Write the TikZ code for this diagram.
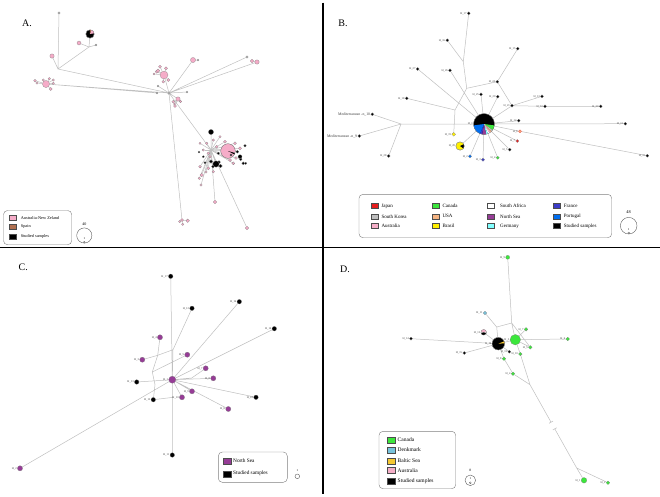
\documentclass[tikz,border=0pt]{standalone}
\usepackage{fontspec}
\setmainfont{Liberation Serif}
\usetikzlibrary{calc}
\pgfdeclarelayer{back}
\pgfdeclarelayer{bg}
\pgfsetlayers{back,bg,main}
\definecolor{pinkA}{RGB}{245,172,200}
\definecolor{brownA}{RGB}{176,112,80}
\definecolor{greyN}{RGB}{175,175,175}
\definecolor{japan}{RGB}{230,30,30}
\definecolor{canada}{RGB}{60,230,60}
\definecolor{france}{RGB}{60,60,200}
\definecolor{skorea}{RGB}{190,190,190}
\definecolor{usa}{RGB}{245,180,130}
\definecolor{nsea}{RGB}{150,60,150}
\definecolor{portugal}{RGB}{0,110,240}
\definecolor{aus}{RGB}{245,175,200}
\definecolor{brasil}{RGB}{255,240,0}
\definecolor{germany}{RGB}{130,255,255}
\definecolor{denmark}{RGB}{120,195,220}
\definecolor{baltic}{RGB}{245,200,50}
\definecolor{edgec}{RGB}{192,192,192}
\newcommand\hapslice[5]{\fill[#2] (#1.center) -- ++(#3:#5pt) arc[start angle=#3, end angle=#4, radius=#5pt] -- cycle;}
\newcommand\hapring[2]{\draw[draw=black!50, line width=0.2pt] (#1.center) circle[radius=#2pt];}
\tikzset{
  edge/.style={draw=edgec, line width=0.5pt},
  hap/.style={circle, draw=black!50, line width=0.2pt, inner sep=0pt, minimum size={#1*2pt}},
  hb/.style={hap=1.5, fill=black},
  lab/.style={font=\fontsize{2.8}{3}\selectfont, inner sep=0.4pt, text=black!75},
  panel/.style={font=\fontsize{10}{12}\selectfont, inner sep=0pt},
  legbox/.style={draw=black!50, rounded corners=4pt, line width=0.4pt},
  sw/.style={draw=black!70, line width=0.3pt, minimum width=7pt, minimum height=5pt, inner sep=0pt},
  legtxt/.style={anchor=west, inner sep=0pt},
  scalec/.style={draw=black!70, line width=0.35pt},
  divider/.style={draw=black, line width=1.6pt}
}
\begin{document}
\begin{tikzpicture}[x=1pt,y=-1pt]
\useasboundingbox (0,0) rectangle (660,496);
\begin{pgfonlayer}{back}
\fill[white] (0,0) rectangle (660,496);
\end{pgfonlayer}

% ---------------- dividers
\coordinate (dvT) at (322.7,2.5);
\coordinate (dvB) at (322.7,493.5);
\coordinate (dhL) at (0,247.3);
\coordinate (dhR) at (660,247.3);
\draw[divider] (dvT) -- (dvB);
\draw[divider] (dhL) -- (dhR);

% ================= PANEL A
\node[panel] (lA) at (27,23) {A.};
\node[hap=1.2, fill=greyN] (a1) at (59,13) {};
\coordinate (jA1) at (58,69);
\node[hap=4.2, fill=black] (a2) at (90,34) {};
\hapslice{a2}{pinkA}{10}{75}{4.2}
\hapslice{a2}{brownA}{75}{92}{4.2}
\hapring{a2}{4.2}
\coordinate (jA2) at (89,47);
\node[hap=2, fill=pinkA] (a3) at (79,43) {};
\node[hap=1.1, fill=greyN] (a4) at (96,45) {};
\node[hap=2.2, fill=pinkA] (a5) at (52,56) {};
\node[hap=3.6, fill=pinkA] (a6) at (46,84) {};
\foreach \n/\x/\y/\r in {1/35/80.7/1.4, 2/37/83/1.2, 3/43.3/80/1.2, 4/49.3/78.7/1.3, 5/53.3/80/1.2, 6/50.7/89/1.6, 7/53.3/83.3/1.2}
  \node[hap=\r, fill=pinkA] (a6s\n) at (\x,\y) {};
\node[hap=1.5, fill=greyN] (a7) at (169,93) {};
\node[hap=1.1, fill=greyN] (a8) at (157,93) {};
\node[hap=1, fill=greyN] (a9) at (158,86) {};
\node[hap=4, fill=pinkA] (a10) at (164,75) {};
\foreach \n/\x/\y/\r in {1/156.7/71.7/1.6, 2/160/66.7/1.5, 3/166/68.3/1.6, 4/168.3/80/1.6, 5/154/74/1.1, 6/163.3/81.7/1.4, 7/158/70.7/1.8}
  \node[hap=\r, fill=pinkA] (a10s\n) at (\x,\y) {};
\node[hap=2.6, fill=pinkA] (a11) at (193,60) {};
\node[hap=1, fill=greyN] (a12) at (198,60) {};
\node[hap=1.2, fill=greyN] (a13) at (247,57) {};
\node[hap=1.8, fill=pinkA] (a14) at (252,61) {};
\node[hap=2.2, fill=pinkA] (a15) at (257,62) {};
\node[hap=1, fill=greyN] (a16) at (187,92) {};
\node[hap=2.2, fill=pinkA] (a17) at (178,99) {};
\foreach \n/\x/\y/\r in {1/173.3/101.7/1.5, 2/175/106/1.5, 3/180.5/101.5/1.3, 4/174.5/104/1.1}
  \node[hap=\r, fill=pinkA] (a17s\n) at (\x,\y) {};
\node[hap=1.6, fill=pinkA] (a18) at (182,220) {};
\foreach \n/\x/\y/\r in {1/187.7/220.7/1.8, 2/182.7/224.3/1.2, 3/179.7/221.5/1.2}
  \node[hap=\r, fill=pinkA] (a18s\n) at (\x,\y) {};
\coordinate (jA3) at (211,150);
\foreach \n/\x/\y/\r in {1/200/143.3/1.1, 2/206.7/143.3/1.3, 3/213.3/140/1.3, 4/220/136.7/1.2, 5/225/141.7/1.5, 6/235/143.3/1.5, 7/240/148.3/1.6, 8/203.3/150/1.2, 9/208.3/153.3/1.4, 10/200/166.7/1.4, 11/208.3/168.3/1.6, 12/213.3/171.7/1.3, 13/201.7/175/1.8, 14/199.3/178.3/1.3, 15/201/185/1.2, 16/210/156.7/1.3, 17/230/160/1.6, 18/233.3/163.3/1.5, 19/216.7/146.7/1.4, 20/206/172/1.2, 21/236/158/1.4}
  \node[hap=\r, fill=pinkA] (a19s\n) at (\x,\y) {};
\node[hap=7.3, fill=pinkA] (a19) at (228,151) {};
\hapslice{a19}{black}{-28}{-16}{7.3}
\hapring{a19}{7.3}
\node[hap=2.6, fill=black] (a20) at (211,132) {};
\foreach \n/\x/\y/\r in {1/211/161.5/1.8, 2/220.5/166/1.8, 3/213/166.5/1.5, 4/219/162/1.5, 5/240/156.7/2, 6/243.3/163.3/1.5, 7/245/145.7/1.3, 8/237.3/151.7/1.5, 9/240.7/159.3/1.4, 10/245.7/163.3/1.2, 11/199/152/1, 12/203.3/156.7/1.1, 13/218.3/153.3/1.3, 14/205/162.7/1.2, 15/231/155/1.2}
  \node[hap=\r, fill=black] (a21s\n) at (\x,\y) {};
\node[hap=3.2, fill=black] (a21) at (216,164) {};
\node[hap=1.8, fill=pinkA] (a22) at (215,202) {};
\node[hap=1.8, fill=pinkA] (a23) at (247,228) {};
\begin{pgfonlayer}{bg}
\draw[edge] (a1)--(jA1) (jA1)--(jA2) (jA2)--(a2) (jA2)--(a3) (jA2)--(a4) (a5)--(jA1)
  (jA1)--(a7) (a6)--(a7) (a6)--(a8) (a7)--(a9) (a7)--(a10) (a7)--(a11) (a11)--(a12)
  (a7)--(a13) (a7)--(a15) (a14)--(a15) (a7)--(a16) (a7)--(a17) (a7)--(a18)
  (a7)--(jA3) (jA3)--(a22) (jA3)--(a23) (jA3)--(a19) (jA3)--(a20) (jA3)--(a21);
\foreach \n in {1,...,7} \draw[edge] (a6)--(a6s\n);
\foreach \n in {1,...,7} \draw[edge] (a10)--(a10s\n);
\foreach \n in {1,...,4} \draw[edge] (a17)--(a17s\n);
\foreach \n in {1,...,3} \draw[edge] (a18)--(a18s\n);
\foreach \n in {1,...,21} \draw[edge] (jA3)--(a19s\n);
\end{pgfonlayer}
% legend A
\draw[legbox] (3.5,210.5) rectangle (71.7,244.7);
\begin{scope}[every node/.append style={font=\fontsize{4.3}{5}\selectfont}]
\node[sw, fill=pinkA] (lgA1) at (12.5,217.8) {};
\node[legtxt] (lgA1t) at (20.7,217.8) {Australia-New Zeland};
\node[sw, fill=brownA] (lgA2) at (12.5,227) {};
\node[legtxt] (lgA2t) at (20.7,227) {Spain};
\node[sw, fill=black] (lgA3) at (12.5,236.5) {};
\node[legtxt] (lgA3t) at (20.7,236.5) {Studied samples};
\end{scope}
\draw[scalec] (84.3,235.5) circle[radius=7.6pt];
\node[font=\fontsize{4}{4}\selectfont, inner sep=0pt] (scA) at (84.3,224.5) {40};
\node[font=\fontsize{3}{3}\selectfont, inner sep=0pt] (scA1) at (84.3,238.8) {1};
\draw[scalec, line width=0.25pt] (84.3,242.2) circle[radius=0.9pt];

% ================= PANEL B
\node[panel] (lB) at (343,23) {B.};
\node[hap=10.5, fill=black, label={[lab]left:H\_1}] (b0) at (484,124) {};
\hapslice{b0}{canada}{-35}{-8}{10.5}
\hapslice{b0}{skorea}{-45}{-35}{10.5}
\hapslice{b0}{usa}{-52}{-45}{10.5}
\hapslice{b0}{aus}{-60}{-52}{10.5}
\hapslice{b0}{white}{-68}{-60}{10.5}
\hapslice{b0}{germany}{-78}{-68}{10.5}
\hapslice{b0}{nsea}{-100}{-78}{10.5}
\hapslice{b0}{france}{-112}{-100}{10.5}
\hapslice{b0}{portugal}{-172}{-112}{10.5}
\hapring{b0}{10.5}
\node[hb, label={[lab]left:H\_17}] (b1) at (468.7,13.3) {};
\node[hb, label={[lab]left:H\_16}] (b2) at (447.3,40.3) {};
\node[hb, label={[lab]left:H\_15}] (b3) at (517.7,48.7) {};
\node[hb, label={[lab]left:H\_27}] (b4) at (417.7,69) {};
\node[hb, label={[lab]left:H\_26}] (b5) at (450,70.3) {};
\node[hb, label={[lab]left:H\_24}] (b6) at (497.3,81.7) {};
\node[hb, label={[lab]left:H\_18}] (b7) at (406.7,98.3) {};
\node[hb, label={[lab]left:H\_25}] (b8) at (481,94.3) {};
\node[hb, label={[lab]left:H\_29}] (b9) at (497.7,96.7) {};
\node[hb, label={[lab]left:H\_13}] (b10) at (542,96.3) {};
\node[hb, label={[lab]left:H\_21}] (b11) at (512,105.7) {};
\node[hb, label={[lab]left:H\_12}] (b12) at (545,106.3) {};
\node[hb, label={[lab]left:H\_30}] (b13) at (600.7,106.3) {};
\node[hb, label={[lab,font=\fontsize{3.8}{4}\selectfont]left:Mediterranean -n\_10}] (b14) at (372.3,114.3) {};
\node[hb, label={[lab,font=\fontsize{3.8}{4}\selectfont]left:Mediterranean -n\_9}] (b15) at (359.3,136) {};
\node[hb, label={[lab]left:H\_14}] (b16) at (518.7,120.7) {};
\node[hb, label={[lab]left:H\_11}] (b17) at (625.3,123.7) {};
\node[hap=1.5, fill=usa, draw=japan, label={[lab]left:H\_6}] (b18) at (520,131.3) {};
\node[hap=1.5, fill=japan, label={[lab]left:H\_7}] (b19) at (517.3,141) {};
\node[hb, label={[lab]left:H\_5}] (b20) at (509.7,149.7) {};
\node[hap=1.6, fill=canada, label={[lab]left:H\_4}] (b21) at (497.7,157.7) {};
\node[hap=1.6, fill=france, label={[lab]left:H\_3}] (b22) at (483,159.7) {};
\node[hap=1.6, fill=portugal, label={[lab]left:H\_2}] (b23) at (470,156.3) {};
\node[hap=4.2, fill=brasil, label={[lab]left:H\_20}] (b24) at (460,146) {};
\hapslice{b24}{black}{-35}{25}{4.2}
\hapring{b24}{4.2}
\node[hap=1.9, fill=brasil, label={[lab]left:H\_19}] (b25) at (453.7,134.3) {};
\node[hb, label={[lab]left:H\_28}] (b26) at (388.7,156) {};
\node[hb, label={[lab]left:H\_31}] (b27) at (647.3,155.7) {};
\coordinate (jB1) at (463.3,61.7);
\coordinate (jB2) at (466.7,88.3);
\coordinate (jB3) at (455,110);
\coordinate (jB4) at (401,124);
\begin{pgfonlayer}{bg}
\draw[edge] (b1)--(jB1) (b2)--(jB1) (jB1)--(jB2) (jB2)--(jB3) (jB2)--(b6) (jB3)--(b25) (b7)--(jB3)
  (b4)--(b0) (b5)--(b0) (b3)--(b6) (b6)--(b11) (b11)--(b10) (b11)--(b12) (b12)--(b13) (b11)--(b0)
  (b8)--(b0) (b9)--(b0) (b14)--(jB4) (b15)--(jB4) (b26)--(jB4) (jB4)--(b0)
  (b16)--(b0) (b17)--(b0) (b0)--(b18) (b18)--(b27) (b19)--(b0) (b20)--(b0) (b21)--(b0)
  (b22)--(b0) (b23)--(b0) (b24)--(b0);
\end{pgfonlayer}
% legend B
\draw[legbox] (359,194.3) rectangle (611.7,237.7);
\begin{scope}[every node/.append style={font=\fontsize{5}{6}\selectfont}]
\node[sw, fill=japan] (lgB1) at (374.3,206) {};
\node[legtxt] (lgB1t) at (381.3,206) {Japan};
\node[sw, fill=skorea] (lgB2) at (374.3,216.3) {};
\node[legtxt] (lgB2t) at (381.3,216.3) {South Korea};
\node[sw, fill=aus] (lgB3) at (374.3,226) {};
\node[legtxt] (lgB3t) at (381.3,226) {Australia};
\node[sw, fill=canada] (lgB4) at (435.3,206) {};
\node[legtxt] (lgB4t) at (442.3,206) {Canada};
\node[sw, fill=usa] (lgB5) at (435.3,216.3) {};
\node[legtxt] (lgB5t) at (442.3,216.3) {USA};
\node[sw, fill=brasil] (lgB6) at (435.3,226) {};
\node[legtxt] (lgB6t) at (442.3,226) {Brasil};
\node[sw, fill=white] (lgB7) at (491,206) {};
\node[legtxt] (lgB7t) at (500,206) {South Africa};
\node[sw, fill=nsea] (lgB8) at (491,216.3) {};
\node[legtxt] (lgB8t) at (500,216.3) {North Sea};
\node[sw, fill=germany] (lgB9) at (491,226) {};
\node[legtxt] (lgB9t) at (500,226) {Germany};
\node[sw, fill=france] (lgB10) at (556.7,206) {};
\node[legtxt] (lgB10t) at (563.7,206) {France};
\node[sw, fill=portugal] (lgB11) at (556.7,216.3) {};
\node[legtxt] (lgB11t) at (563.7,216.3) {Portugal};
\node[sw, fill=black] (lgB12) at (556.7,226) {};
\node[legtxt] (lgB12t) at (563.7,226) {Studied samples};
\end{scope}
\draw[scalec] (628.7,225.7) circle[radius=8.3pt];
\node[font=\fontsize{4.3}{4}\selectfont, inner sep=0pt] (scB) at (628.5,212) {48};
\node[font=\fontsize{3}{3}\selectfont, inner sep=0pt] (scB1) at (628.7,229.5) {1};
\draw[scalec, line width=0.25pt] (628.7,233) circle[radius=0.9pt];

% ================= PANEL C
\node[panel] (lC) at (23.3,267.3) {C.};
\tikzset{cb/.style={hap=2.3, fill=black}, cp/.style={hap=2.6, fill=nsea}}
\node[hap=3.6, fill=nsea, label={[lab]left:H\_1}] (c0) at (172.3,379.7) {};
\node[cb, label={[lab]left:H\_17}] (c1) at (170.7,276.3) {};
\node[cb, label={[lab]left:H\_12}] (c2) at (192,308.3) {};
\node[cb, label={[lab]left:H\_16}] (c3) at (239.3,301.7) {};
\node[cb, label={[lab]left:H\_14}] (c4) at (274.3,328.7) {};
\node[cp, label={[lab]left:H\_4}] (c5) at (160,337.3) {};
\node[cp, label={[lab]left:H\_5}] (c6) at (187.3,354.7) {};
\node[cp, label={[lab]left:H\_3}] (c7) at (142.3,359.7) {};
\node[cp, label={[lab]left:H\_7}] (c8) at (205.7,368.3) {};
\node[cp, label={[lab]left:H\_8}] (c9) at (213.3,378.3) {};
\node[cb, label={[lab]left:H\_13}] (c10) at (136.7,382) {};
\node[cp, label={[lab]left:H\_9}] (c11) at (192,391.3) {};
\node[cp, label={[lab]left:H\_10}] (c12) at (182,397.3) {};
\node[cb, label={[lab]left:H\_15}] (c13) at (153.3,399.7) {};
\node[cb, label={[lab]left:H\_18}] (c14) at (256,397.3) {};
\node[cp, label={[lab]left:H\_6}] (c15) at (228.3,409) {};
\node[cb, label={[lab]left:H\_11}] (c16) at (172.3,455) {};
\node[cp, label={[lab]left:H\_2}] (c17) at (20,468.3) {};
\coordinate (jC1) at (173,349.7);
\coordinate (jC2) at (157.7,355.3);
\coordinate (jC4) at (155,384.7);
\coordinate (jC5) at (152.3,372);
\coordinate (jC6) at (173.3,397.3);
\coordinate (jC7) at (191.7,378);
\begin{pgfonlayer}{bg}
\draw[edge] (c1)--(c0) (c2)--(jC1) (jC1)--(c0) (c5)--(jC2) (c7)--(jC2) (jC2)--(jC1) (jC2)--(jC5)
  (jC5)--(jC4) (jC4)--(c13) (c6)--(jC5) (c10)--(c0) (c13)--(jC6) (c3)--(c0) (c4)--(c0)
  (c8)--(jC7) (jC7)--(c0) (c9)--(c0) (c11)--(c0) (c12)--(c0) (c14)--(c0) (c15)--(c0)
  (c16)--(c0) (c17)--(c0);
\end{pgfonlayer}
% legend C
\draw[legbox] (218.3,452) rectangle (287.3,482.3);
\begin{scope}[every node/.append style={font=\fontsize{5.3}{6}\selectfont}]
\node[sw, fill=nsea, minimum width=8pt, minimum height=6pt] (lgC1) at (226.7,460.7) {};
\node[legtxt] (lgC1t) at (233,460.7) {North Sea};
\node[sw, fill=black, minimum width=8pt, minimum height=6pt] (lgC2) at (226.7,473.7) {};
\node[legtxt] (lgC2t) at (233,473.7) {Studied samples};
\end{scope}
\draw[scalec] (297.3,476.3) circle[radius=2.3pt];
\node[font=\fontsize{3}{3}\selectfont, inner sep=0pt] (scC) at (297.3,470) {1};

% ================= PANEL D
\node[panel] (lD) at (345,269.7) {D.};
\tikzset{dg/.style={hap=1.8, fill=canada}}
\node[dg, hap=2, label={[lab]left:H\_9}] (d1) at (507.7,257.3) {};
\node[hap=1.8, fill=denmark, label={[lab]left:H\_11}] (d2) at (485,313) {};
\node[hap=2.8, fill=white, label={[lab]left:H\_12}] (d3) at (483.7,332.3) {};
\hapslice{d3}{aus}{20}{160}{2.8}
\hapslice{d3}{black}{195}{345}{2.8}
\hapring{d3}{2.8}
\node[hap=1.5, fill=black, label={[lab]left:H\_14}] (d4) at (411,338.7) {};
\node[hap=6.3, fill=black, label={[lab]left:H\_16}] (d5) at (498.3,343.7) {};
\hapslice{d5}{baltic}{4}{22}{6.3}
\hapring{d5}{6.3}
\node[hap=5.3, fill=canada, label={[lab]left:H\_3}] (d6) at (515.3,339.7) {};
\node[dg, label={[lab]left:H\_7}] (d7) at (526,329.3) {};
\node[dg, label={[lab]left:H\_6}] (d8) at (567.7,339) {};
\node[dg, label={[lab]left:H\_5}] (d9) at (530.3,347.3) {};
\node[dg, label={[lab]left:H\_10}] (d10) at (520.3,354) {};
\node[hap=1.5, fill=black, label={[lab]left:H\_13}] (d11) at (509.3,351.7) {};
\node[hap=1.5, fill=black, label={[lab]left:H\_15}] (d12) at (464.3,353) {};
\node[dg, label={[lab]left:H\_8}] (d13) at (504,358.7) {};
\node[dg, label={[lab]left:H\_4}] (d14) at (513,373.7) {};
\node[dg, hap=2.8, label={[lab]left:H\_1}] (d15) at (584,480.3) {};
\node[dg, label={[lab]left:H\_2}] (d16) at (608,482.7) {};
\coordinate (jD1) at (511.7,323);
\coordinate (jD2) at (496.7,327);
\coordinate (jD3) at (530,384.7);
\coordinate (jD4) at (576.7,468);
\coordinate (bk1) at ($(jD3)!0.45!(jD4)$);
\coordinate (bk2) at ($(jD3)!0.53!(jD4)$);
\begin{pgfonlayer}{bg}
\draw[edge] (d1)--(jD1) (jD1)--(d6) (jD1)--(jD2) (jD1)--(d9) (d2)--(jD2) (jD2)--(d5)
  (d5)--(d4) (d5)--(d12) (d5)--(d6) (d5)--(d3) (d5)--(d11) (d6)--(d7) (d6)--(d8) (d6)--(d9)
  (d6)--(d10) (d10)--(jD3) (d5)--(d13) (d13)--(d14) (d14)--(jD3)
  (jD3)--(bk1) (bk2)--(jD4) (jD4)--(d15) (jD4)--(d16);
\draw[edge, line width=0.55pt] ($(bk1)!2.2pt!90:(jD4)$) -- ($(bk1)!2.2pt!-90:(jD4)$);
\draw[edge, line width=0.55pt] ($(bk2)!2.2pt!90:(jD4)$) -- ($(bk2)!2.2pt!-90:(jD4)$);
\end{pgfonlayer}
% legend D
\draw[legbox] (379,431.3) rectangle (455.7,488.7);
\begin{scope}[every node/.append style={font=\fontsize{5.5}{6}\selectfont}]
\node[sw, fill=canada, minimum width=8pt, minimum height=6pt] (lgD1) at (391,439.7) {};
\node[legtxt] (lgD1t) at (397.5,439.7) {Canada};
\node[sw, fill=denmark, minimum width=8pt, minimum height=6pt] (lgD2) at (391,450) {};
\node[legtxt] (lgD2t) at (397.5,450) {Denkmark};
\node[sw, fill=baltic, minimum width=8pt, minimum height=6pt] (lgD3) at (391,460.7) {};
\node[legtxt] (lgD3t) at (397.5,460.7) {Baltic Sea};
\node[sw, fill=aus, minimum width=8pt, minimum height=6pt] (lgD4) at (391,470.3) {};
\node[legtxt] (lgD4t) at (397.5,470.3) {Australia};
\node[sw, fill=black, minimum width=8pt, minimum height=6pt] (lgD5) at (391,481.3) {};
\node[legtxt] (lgD5t) at (397.5,481.3) {Studied samples};
\end{scope}
\draw[scalec] (470.3,480.3) circle[radius=5.3pt];
\node[font=\fontsize{3.5}{3.5}\selectfont, inner sep=0pt] (scD) at (470.3,470.5) {8};
\node[font=\fontsize{3}{3}\selectfont, inner sep=0pt] (scD1) at (470.3,478.8) {1};
\draw[scalec, line width=0.25pt] (470.3,482.8) circle[radius=1pt];
\end{tikzpicture}
\end{document}
